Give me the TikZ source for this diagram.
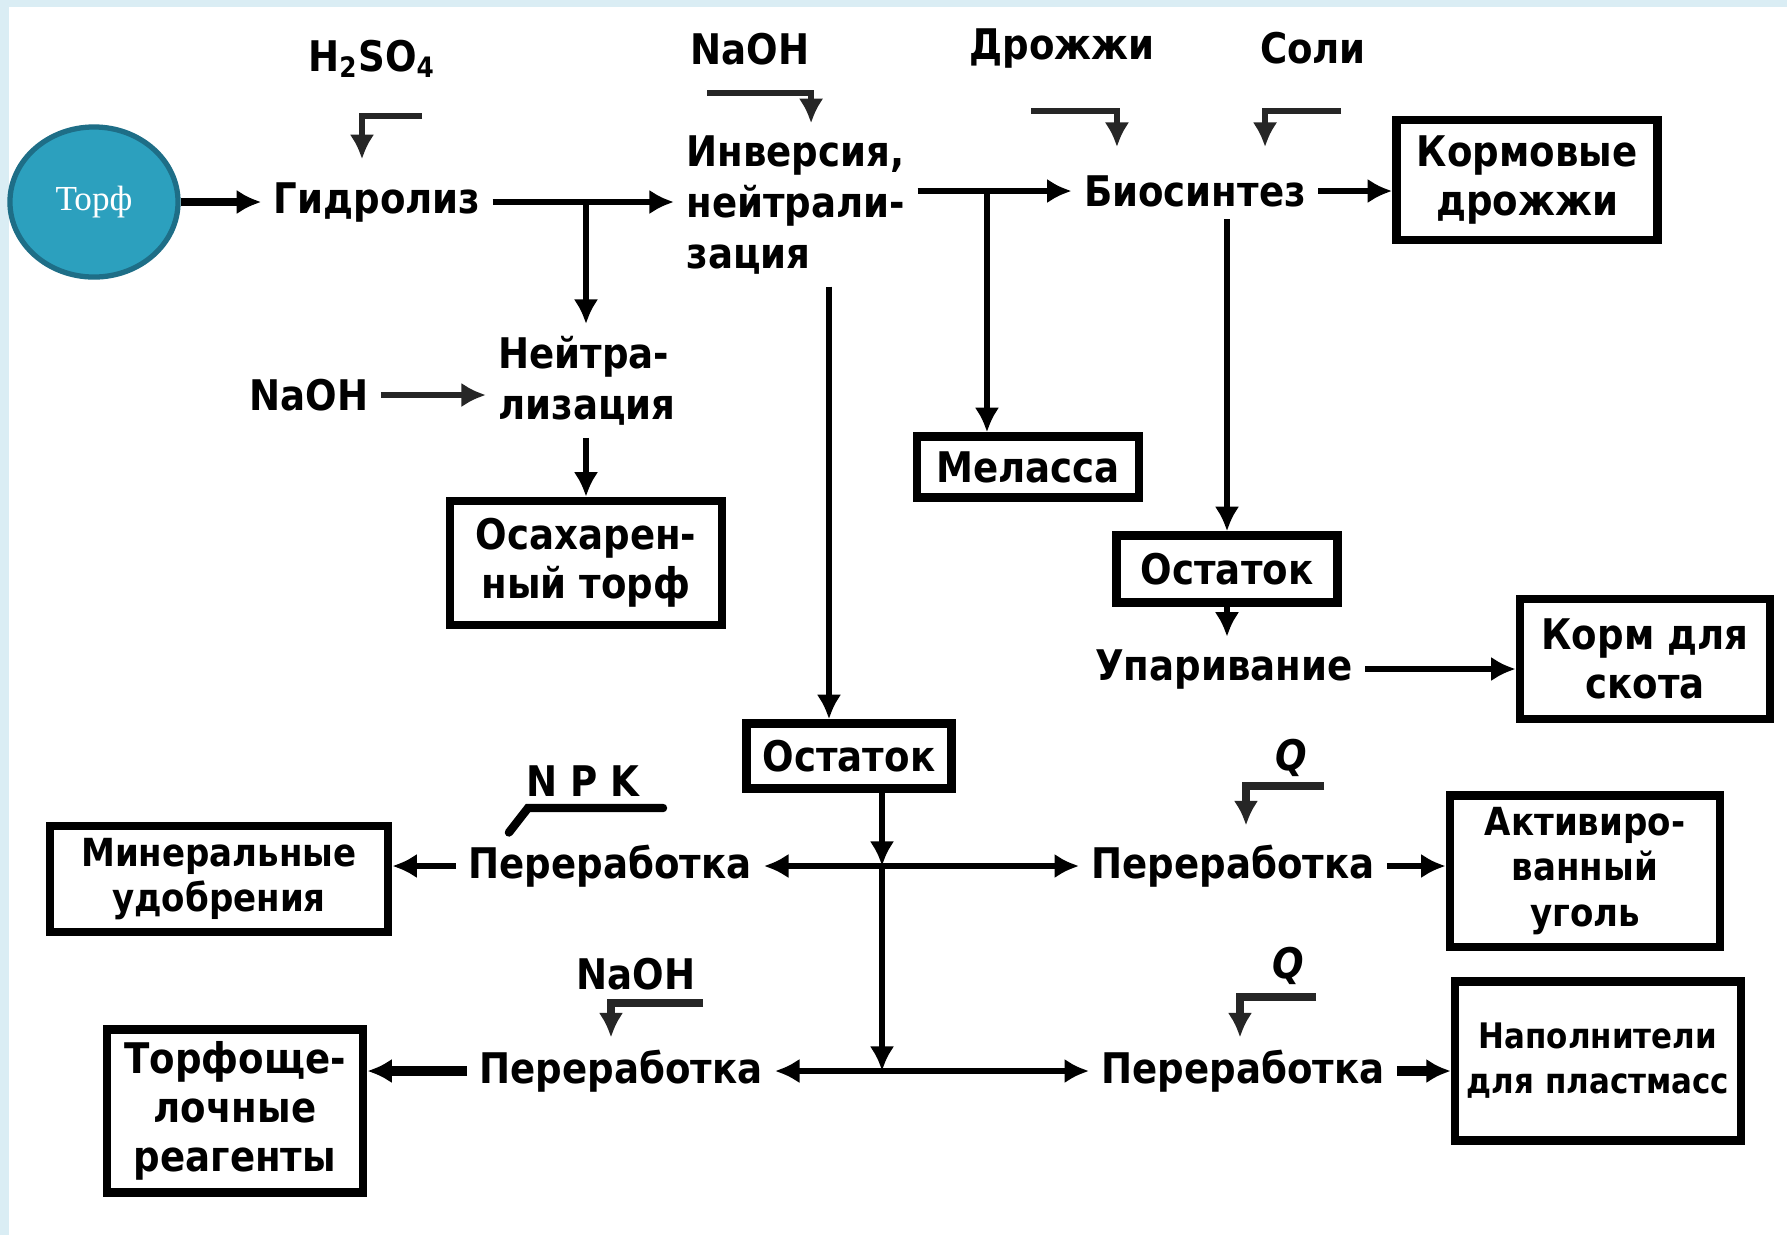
\documentclass[tikz,border=0pt]{standalone}
\usepackage{fontspec}
\setmainfont{DejaVu Sans}[FakeStretch=0.88]
\newfontfamily\serifface{Liberation Serif}
\usepackage{xcolor}
\usepackage{tikz}
\usetikzlibrary{positioning, shapes.geometric, arrows.meta, calc}

\definecolor{peatblue}{RGB}{44,160,190}
\definecolor{peatedge}{RGB}{30,110,135}
\definecolor{pageblue}{RGB}{218,237,244}

\begin{document}
\begin{tikzpicture}[x=0.01cm, y=-0.01cm,
    stage/.style={font=\bfseries\fontsize{12}{14.5}\selectfont, align=left},
    reagent/.style={font=\bfseries\fontsize{12}{14}\selectfont},
    product/.style={draw, line width=2.4pt, align=center, font=\bfseries\fontsize{12}{14}\selectfont},
    flow/.style={line width=1.9pt, -{Latex[length=7pt,width=7pt]}},
    feed/.style={line width=1.9pt, black!85, -{Latex[length=7pt,width=7pt]}}]

          % page
          \fill[pageblue] (0,0) rectangle (1787,1235);
          \fill[white] (9,7) rectangle (1787,1235);
          \useasboundingbox (0,0) rectangle (1787,1235);

          % upper row
          \node[ellipse, draw=peatedge, line width=1.5pt, fill=peatblue, minimum width=1.68cm, minimum height=1.5cm, text=white, font=\serifface\fontsize{10}{12}\selectfont] (peat) at (94,202) {Торф};
          \node[stage] (hydro) at (377,202) {Гидролиз};
          \node[stage, anchor=west] (inv) at (674,205) {Инверсия,\\нейтрали-\\зация};
          \node[stage] (bio) at (1195,191) {Биосинтез};
          \node[product, minimum width=2.61cm, minimum height=1.2cm] (fyeast) at (1527,180) {Кормовые\\дрожжи};

          \node[reagent] (acid) at (372,59) {H\textsubscript{2}SO\textsubscript{4}};
          \node[reagent] (alkali1) at (750,49) {NaOH};
          \node[reagent] (yeast) at (1062,48) {Дрожжи};
          \node[reagent] (salts) at (1313,48) {Соли};

          % middle
          \node[stage, anchor=west] (neut) at (486,381) {Нейтра-\\лизация};
          \node[reagent] (alkali2) at (309,395) {NaOH};
          \node[product, minimum width=2.72cm, minimum height=1.24cm] (sugar) at (586,563) {Осахарен-\\ный торф};
          \node[product, minimum width=2.22cm, minimum height=0.61cm] (molasses) at (1028,467) {Меласса};
          \node[product, minimum width=2.21cm, minimum height=0.67cm] (rest1) at (1227,569) {Остаток};
          \node[stage] (evap) at (1224,669) {Упаривание};
          \node[product, minimum width=2.5cm, minimum height=1.2cm] (fodder) at (1645,659) {Корм для\\скота};
          \node[product, minimum width=2.05cm, minimum height=0.65cm] (rest2) at (849,756) {Остаток};

          % lower rows
          \node[stage] (procA) at (610,866) {Переработка};
          \node[product, minimum width=3.38cm, minimum height=1.04cm, font=\bfseries\fontsize{11}{13}\selectfont] (mineral) at (219,879) {Минеральные\\удобрения};
          \node[reagent] (npk) at (583,781) {N P K};
          \node[stage] (procB) at (621,1071) {Переработка};
          \node[product, minimum width=2.56cm, minimum height=1.58cm] (reagents) at (235,1111) {Торфоще-\\лочные\\реагенты};
          \node[reagent] (alkali3) at (636,974) {NaOH};

          \node[reagent, font=\bfseries\itshape\fontsize{12}{14}\selectfont] (heat1) at (1291,758) {Q};
          \node[stage] (procC) at (1233,866) {Переработка};
          \node[product, minimum width=2.7cm, minimum height=1.43cm, font=\bfseries\fontsize{11}{13}\selectfont] (carbon) at (1585,871) {Активиро-\\ванный\\уголь};
          \node[reagent, font=\bfseries\itshape\fontsize{12}{14}\selectfont] (heat2) at (1288,966) {Q};
          \node[stage] (procD) at (1243,1071) {Переработка};
          \node[product, minimum width=2.72cm, minimum height=1.59cm, font=\bfseries\fontsize{10}{12.8}\selectfont] (filler) at (1598,1061) {Наполнители\\для пластмасс};

          % feed inlets
          \coordinate (acidin) at (422,116);
          \coordinate (alkali1in) at (707,93);
          \coordinate (yeastin) at (1031,111);
          \coordinate (saltsin) at (1341,111);
          \coordinate (npkin) at (663,808);
          \coordinate (alkali3in) at (703,1003);
          \coordinate (heat1in) at (1324,786);
          \coordinate (heat2in) at (1316,997);

          \draw[feed] (acidin) -| ([xshift=-0.15cm, yshift=3pt]hydro.north);
          \draw[feed] (alkali1in) -| ([xshift=1.37cm]inv.north west);
          \draw[feed] (yeastin) -| ([xshift=-0.78cm, yshift=4.5pt]bio.north);
          \draw[feed] (saltsin) -| ([xshift=0.7cm, yshift=4.5pt]bio.north);
          \draw[feed] (alkali2.east) -- (alkali2.east -| neut.west);
          \draw[line width=2.4pt, line cap=round] (npkin) -- ++(-135,0) -- ([xshift=-1.01cm]procA.north);
          \draw[feed, line width=2.4pt] (alkali3in) -| ([xshift=-0.1cm]procB.north);
          \draw[feed, line width=2.4pt] (heat1in) -| ([xshift=0.13cm, yshift=2pt]procC.north);
          \draw[feed, line width=2.4pt] (heat2in) -| ([xshift=-0.03cm]procD.north);

          % main flow
          \draw[flow, line width=2.4pt] (peat.east) -- (hydro.west);
          \draw[flow] (hydro.east) -- (hydro.east -| inv.west);
          \draw[flow] (hydro.east -| sugar.north) -- (neut.north -| sugar.north);
          \draw[flow] (neut.south -| sugar.north) -- (sugar.north);
          \draw[flow] (inv.east |- bio.west) -- (bio.west);
          \draw[flow] ([xshift=-0.41cm]molasses.north |- bio.west) -- ([xshift=-0.41cm]molasses.north);
          \draw[flow] ([xshift=-0.2cm]rest2.north |- inv.south) -- ([xshift=-0.2cm]rest2.north);
          \draw[flow] (bio.east) -- (bio.east -| fyeast.west);
          \draw[flow] (rest1.north |- bio.south) -- (rest1.north);
          \draw[flow] (rest1.south) -- (rest1.south |- evap.north);
          \draw[flow] (evap.east) -- (evap.east -| fodder.west);

          % residue split
          \coordinate (split1) at ([xshift=0.33cm]rest2.south |- procA);
          \coordinate (split2) at ([xshift=0.33cm]rest2.south |- procB);
          \draw[flow] ([xshift=0.33cm]rest2.south) -- (split1);
          \draw[flow] (split1) -- (split2);
          \draw[flow] (split1) -- (procA.east);
          \draw[flow] (split1) -- (procC.west);
          \draw[flow] (split2) -- (procB.east);
          \draw[flow] (split2) -- (procD.west);

          \draw[flow] (procA.west) -- (procA.west -| mineral.east);
          \draw[flow, line width=2.6pt] (procB.west) -- (procB.west -| reagents.east);
          \draw[flow] (procC.east) -- (procC.east -| carbon.west);
          \draw[flow, line width=2.6pt] (procD.east) -- (procD.east -| filler.west);
\end{tikzpicture}
\end{document}
